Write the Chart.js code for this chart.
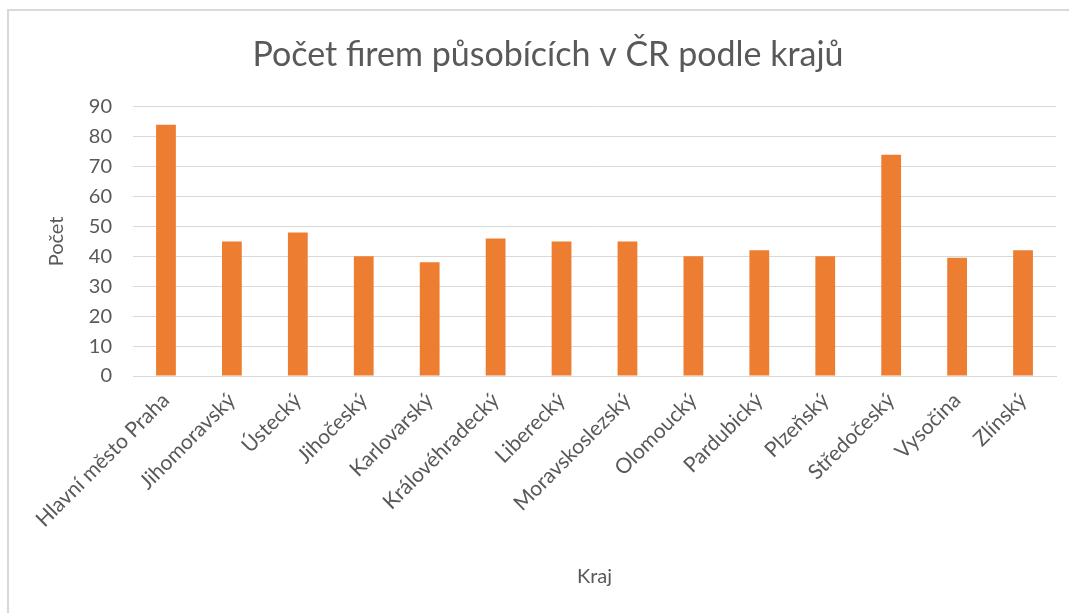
<!DOCTYPE html>
<html>
<head>
<meta charset="utf-8">
<script src="https://cdn.jsdelivr.net/npm/chart.js@4"></script>
<style>
  html, body { margin: 0; padding: 0; background: #fff; }
  #wrap { position: relative; width: 1069px; height: 613px; }
  #frame { position: absolute; left: 7px; top: 9px; right: -5px; bottom: -5px;
           border-top: 2px solid #d9d9d9; border-left: 2px solid #d9d9d9; }
  canvas { position: absolute; left: 0; top: 0; }
</style>
</head>
<body>
<div id="wrap">
  <div id="frame"></div>
  <canvas id="krajeChart" width="1069" height="613"></canvas>
</div>
<script>
const kraje = [
  "Hlavní město Praha",
  "Jihomoravský",
  "Ústecký",
  "Jihočeský",
  "Karlovarský",
  "Královéhradecký",
  "Liberecký",
  "Moravskoslezský",
  "Olomoucký",
  "Pardubický",
  "Plzeňský",
  "Středočeský",
  "Vysočina",
  "Zlínský"
];
const pocetFirem = [84, 45, 48, 40, 38, 46, 45, 45, 40, 42, 40, 74, 39.5, 42];

const textColor = "#595959";
const gridColor = "#d9d9d9";
const fontName = "Lato, 'Open Sans', sans-serif";

const ctx = document.getElementById("krajeChart");

const myChart = new Chart(ctx, {
  type: "bar",
  data: {
    labels: kraje,
    datasets: [
      {
        label: "Počet",
        data: pocetFirem,
        backgroundColor: "#ED7D31",
        barPercentage: 0.6,
        categoryPercentage: 0.5,
      },
    ],
  },
  options: {
    responsive: false,
    animation: false,
    layout: {
      // left padding also moves the title centre to match the original
      padding: { left: 40, right: 13, top: 0, bottom: 0 }
    },
    plugins: {
      legend: { display: false },
      tooltip: { enabled: false },
      title: {
        display: true,
        text: "Počet firem působících v ČR podle krajů",
        color: textColor,
        font: { family: fontName, size: 34, weight: "normal" },
        padding: { top: 35, bottom: 31 },
      },
    },
    scales: {
      x: {
        grid: { display: false },
        border: { display: true, color: gridColor },
        ticks: {
          color: textColor,
          font: { family: fontName, size: 21 },
          minRotation: 45,
          maxRotation: 45,
          autoSkip: false,
          padding: 4,
        },
        title: {
          display: true,
          text: "Kraj",
          color: textColor,
          font: { family: fontName, size: 20 },
          padding: { top: 30, bottom: 24 },
        },
        afterFit(scale) {
          scale.height = 613 - 376;
        },
      },
      y: {
        min: 0,
        max: 90,
        ticks: {
          stepSize: 10,
          color: textColor,
          font: { family: fontName, size: 20 },
          padding: 21,
        },
        grid: { color: gridColor, drawTicks: false },
        border: { display: false },
        title: {
          display: true,
          text: "Počet",
          color: textColor,
          font: { family: fontName, size: 20 },
          padding: { top: 5, bottom: 0 },
        },
        afterFit(scale) {
          scale.width = 93;
        },
      },
    },
  },
});
</script>
</body>
</html>
